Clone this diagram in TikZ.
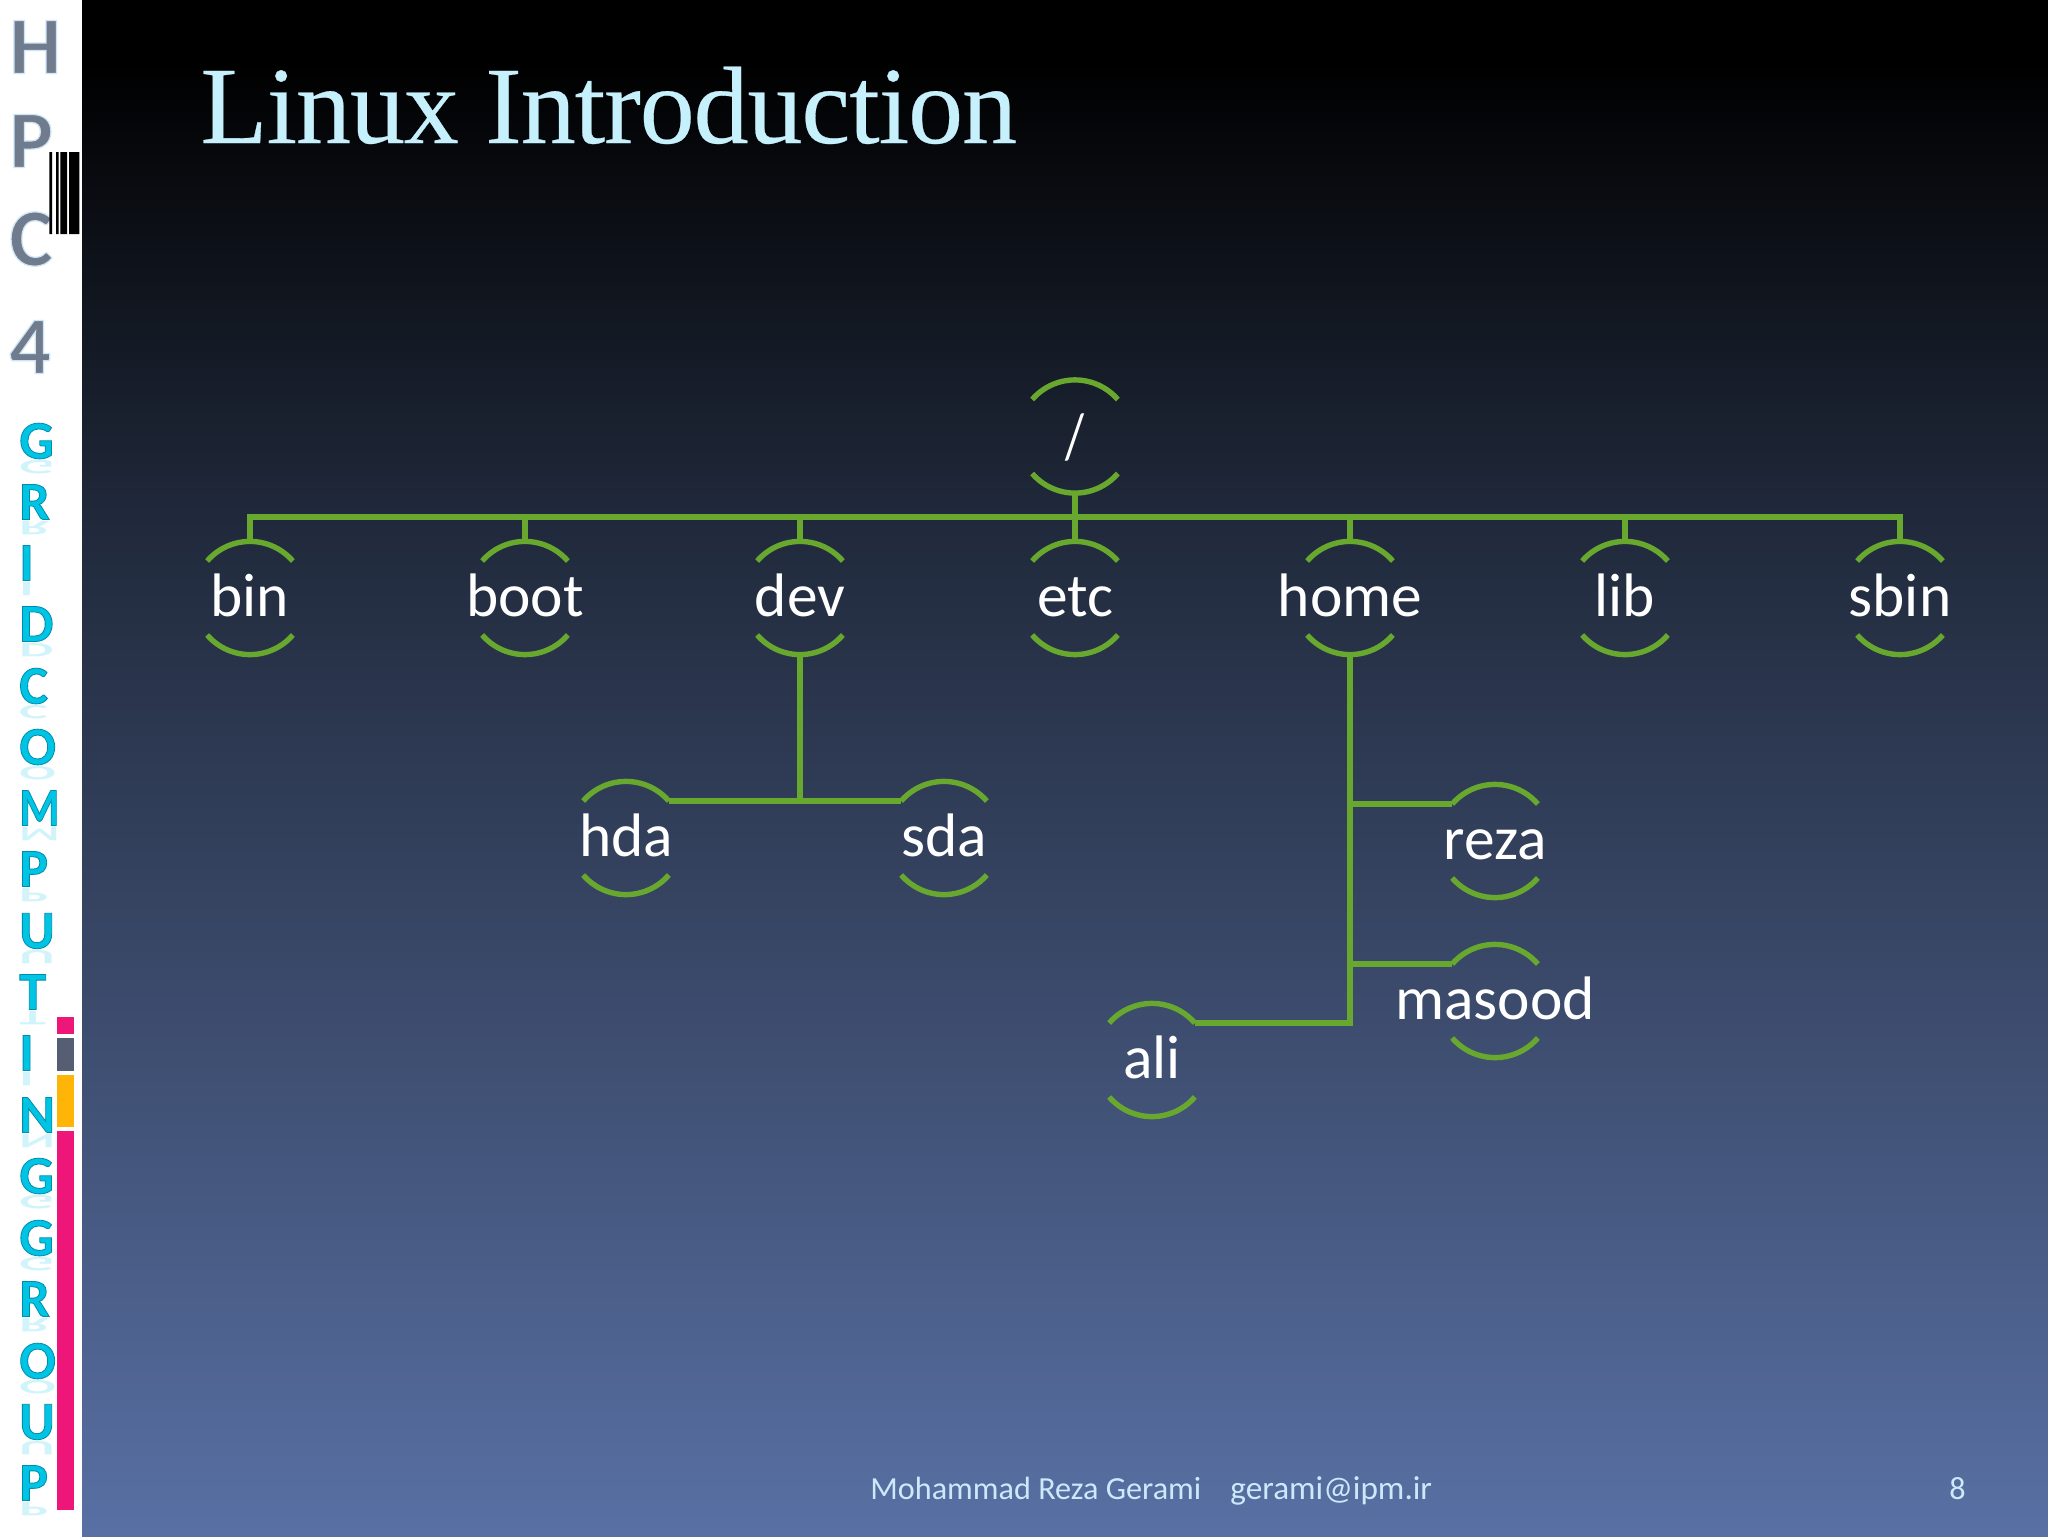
\documentclass[tikz,border=0pt]{standalone}
\usepackage{fontspec}
\usetikzlibrary{calc,fadings}
\setmainfont{Carlito}
\newfontfamily\serifttl[LetterSpace=-1.0,FakeBold=0.25]{Liberation Serif}
\definecolor{grn}{HTML}{68A82F}
\definecolor{bgA}{HTML}{000000}
\definecolor{bgB}{HTML}{1F2839}
\definecolor{bgD}{HTML}{3F4F72}
\definecolor{bgC}{HTML}{5870A4}
\definecolor{ttl}{HTML}{C6F0FC}
\definecolor{foot}{HTML}{CDE8FA}
\definecolor{cya}{HTML}{00C4E4}
\definecolor{gry}{HTML}{707C8E}
\definecolor{pnk}{HTML}{EE1678}
\definecolor{slt}{HTML}{565E74}
\definecolor{org}{HTML}{FFB508}
\pgfdeclareverticalshading{slidebg}{100bp}{
  color(0bp)=(bgC); color(25bp)=(bgC); color(40.5bp)=(bgD); color(58.7bp)=(bgB); color(73bp)=(bgA); color(100bp)=(bgA)}
\tikzset{
  x=0.5pt,y=-0.5pt,
  fname/.style={inner sep=0pt,minimum width=43pt,text height=37.3pt,text depth=19.3pt,
    text=white,font=\fontsize{30.7}{31}\selectfont},
  arcline/.style={draw=grn,line width=2.7pt},
  link/.style={draw=grn,line width=2.7pt},
  sidecy/.style={inner sep=0pt,anchor=west,font=\fontsize{27}{27}\selectfont\bfseries\addfontfeature{FakeBold=1.5},text=cya},
  sidegr/.style={inner sep=0pt,anchor=west,font=\fontsize{41}{41}\selectfont\bfseries\addfontfeature{FakeBold=1.5},text=gry},
  footer/.style={inner sep=0pt,anchor=base west,text=foot,font=\fontsize{16.1}{16.1}\selectfont},
}
\newcommand{\fnode}[4]{%
  \node[fname,minimum height=56.6pt] (#1) at (#2,#3) {\makebox[0pt][c]{#4}};
  \draw[arcline] (#1.center) ++(-139.2:56.6) arc[start angle=-139.2,end angle=-40.8,radius=56.6];
  \draw[arcline] (#1.center) ++(139.2:56.6) arc[start angle=139.2,end angle=40.8,radius=56.6];
  \coordinate (#1tl) at ($(#1.center)+(-42.8,-37)$);
  \coordinate (#1tr) at ($(#1.center)+(42.8,-37)$);
}
\newcommand{\cyl}[2]{%
  \node[inner sep=0pt,anchor=west,font=\fontsize{27}{27}\selectfont\bfseries,text=cya!18] at (19,#1+26) {\scalebox{1}[-0.38]{#2}};
  \node[sidecy] at (19,#1) {\special{pdf:code 0 .55 .68 RG}#2};}
\newcommand{\gyl}[2]{\node[sidegr] at (9,#1) {\special{pdf:code .8 .9 .96 RG}#2};}
\begin{document}
\begin{tikzpicture}
\useasboundingbox (0,0) rectangle (2048,1536);
\fill[white] (0,0) rectangle (82,1536);
\shade[shading=slidebg] (82,0) rectangle (2048,1536);
% side word
\gyl{47}{H}\gyl{141}{P}\gyl{239}{C}\gyl{347}{4}
\cyl{441}{G}\cyl{502}{R}\cyl{563}{I}\cyl{624}{D}\cyl{686}{C}\cyl{747}{O}\cyl{808}{\scalebox{0.85}[1]{M}}\cyl{869}{P}\cyl{931}{U}\cyl{992}{T}\cyl{1053}{I}\cyl{1115}{N}\cyl{1176}{G}\cyl{1238}{G}\cyl{1299}{R}\cyl{1361}{O}\cyl{1422}{U}\cyl{1483}{P}
% barcode
\fill[black] (49.3,152) rectangle (52,234) (56,152) rectangle (58.7,234) (60.3,152) rectangle (67,234) (69,152) rectangle (79.3,234);
% colour bars
\fill[pnk] (57.3,1017) rectangle (74,1034);
\fill[slt] (57.3,1038) rectangle (74,1071);
\fill[org] (57.3,1075) rectangle (74,1127);
\fill[pnk] (57.3,1131) rectangle (74,1510);
% title
\node[inner sep=0pt,anchor=base west,text=ttl,font=\serifttl\fontsize{55}{55}\selectfont] (title) at (200,143) {Linux Introduction};
% tree
\fnode{root}{1075}{436.5}{\raisebox{-2pt}{\scalebox{0.8}[1.05]{/}}}
\fnode{bin}{250}{598}{bin}
\fnode{boot}{525}{598}{boot}
\fnode{dev}{800}{598}{dev}
\fnode{etc}{1075}{598}{etc}
\fnode{home}{1350}{598}{home}
\fnode{lib}{1625}{598}{lib}
\fnode{sbin}{1900}{598}{sbin}
\fnode{hda}{626}{838}{hda}
\fnode{sda}{944}{838}{sda}
\fnode{reza}{1495}{841}{reza}
\fnode{masood}{1495}{1001}{masood}
\fnode{ali}{1152}{1060}{ali}
\coordinate (bus) at (1075,517);
\draw[link] (root.south) -- (etc.north);
\draw[link] (bin.north) -- (bin.north |- bus) -- (sbin.north |- bus) -- (sbin.north);
\foreach \n in {boot,dev,home,lib}{\draw[link] (\n.north) -- (\n.north |- bus);}
\draw[link] (dev.south) -- (dev.south |- hdatr);
\draw[link] (hdatr) -- (sdatl);
\draw[link] (home.south) |- (alitr);
\draw[link] (rezatl) -- (rezatl -| home.south);
\draw[link] (masoodtl) -- (masoodtl -| home.south);
% footer
\node[footer] (fa) at (870,1499) {Mohammad Reza Gerami};
\node[footer,font=\fontsize{16.6}{16.6}\selectfont] (fb) at (1230,1499) {gerami@ipm.ir};
\node[footer] (fc) at (1949,1499) {8};
\end{tikzpicture}
\end{document}
